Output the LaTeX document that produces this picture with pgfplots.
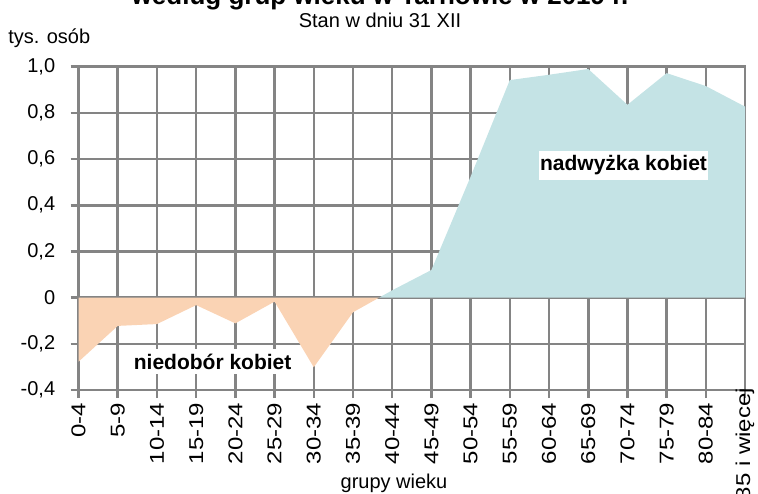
\documentclass[border=0pt]{standalone}
\usepackage{graphicx}
\usepackage{fontspec}
\setmainfont{Liberation Sans}
\usepackage{pgfplots}
\usepackage{pgfplotstable}
\pgfplotsset{compat=1.18}
\usepgfplotslibrary{fillbetween}
\definecolor{peach}{HTML}{FAD3B4}
\definecolor{aqua}{HTML}{C4E3E5}
\definecolor{gridgray}{HTML}{848484}
\newcommand\xl[1]{\scalebox{1.2}[1]{#1}}
\pgfplotstableread{
x y
0 -0.277
1 -0.122
2 -0.114
3 -0.032
4 -0.111
5 -0.017
6 -0.301
7 -0.063
8 0.032
9 0.120
10 0.524
11 0.942
12 0.965
13 0.990
14 0.835
15 0.972
16 0.916
17 0.827
}\datatable
\begin{document}
\begin{tikzpicture}
\begin{axis}[
  at={(0,0)}, anchor=south west,
  scale only axis, width=499.9pt, height=242.6pt,
  xmin=0, xmax=17, ymin=-0.4, ymax=1.0,
  xtick={0,...,17},
  xticklabels={\xl{0-4},\xl{5-9},\xl{10-14},\xl{15-19},\xl{20-24},\xl{25-29},\xl{30-34},\xl{35-39},\xl{40-44},\xl{45-49},\xl{50-54},\xl{55-59},\xl{60-64},\xl{65-69},\xl{70-74},\xl{75-79},\xl{80-84},{\xl{85 i więcej}\hspace*{-11pt}}},
  ytick={-0.4,-0.2,0,0.2,0.4,0.6,0.8,1.0},
  yticklabels={{-0,4},{-0,2},0,{0,2},{0,4},{0,6},{0,8},{1,0}},
  grid=major,
  grid style={gridgray, line width=1.9pt},
  axis line style={gridgray, line width=1.9pt},
  tick style={gridgray, line width=1.9pt},
  tick align=outside, major tick length=6pt,
  xtick pos=left, ytick pos=left,
  xticklabel style={rotate=90, anchor=east, font=\fontsize{15}{18}\selectfont},
  yticklabel style={font=\fontsize{15}{18}\selectfont, xshift=-8pt},
]
\addplot[name path=D, draw=none] table[x=x, y=y] {\datatable};
\addplot[name path=Z, draw=none] coordinates {(0,0) (17,0)};
\addplot[draw=none] fill between[of=D and Z, split,
  every segment no 0/.style={fill=peach},
  every segment no 1/.style={fill=aqua}];
\node[fill=white, inner xsep=1pt, inner ysep=3.5pt, font=\fontsize{15.75}{18}\selectfont\bfseries] at (axis cs:3.42,-0.278) {niedobór kobiet};
\node[fill=white, inner xsep=1pt, inner ysep=3.5pt, font=\fontsize{15.75}{18}\selectfont\bfseries] at (axis cs:13.9,0.574) {nadwyżka kobiet};
\end{axis}
\node[anchor=base, font=\fontsize{19.5}{22}\selectfont\bfseries] at (226.1pt,289.2pt) {według grup wieku w Tarnowie w 2019 r.};
\node[anchor=base, font=\fontsize{15}{18}\selectfont] at (226.1pt,271.6pt) {Stan w dniu 31 XII};
\node[anchor=base west, inner xsep=0pt, font=\fontsize{15}{18}\selectfont] at (-52.9pt,259.6pt) {tys. osób};
\node[anchor=base, font=\fontsize{15}{18}\selectfont] at (236.6pt,-73.4pt) {grupy wieku};
\pgfresetboundingbox
\path[use as bounding box] (-58.9pt,-77.2pt) rectangle (509.6pt,292.6pt);
\end{tikzpicture}
\end{document}
